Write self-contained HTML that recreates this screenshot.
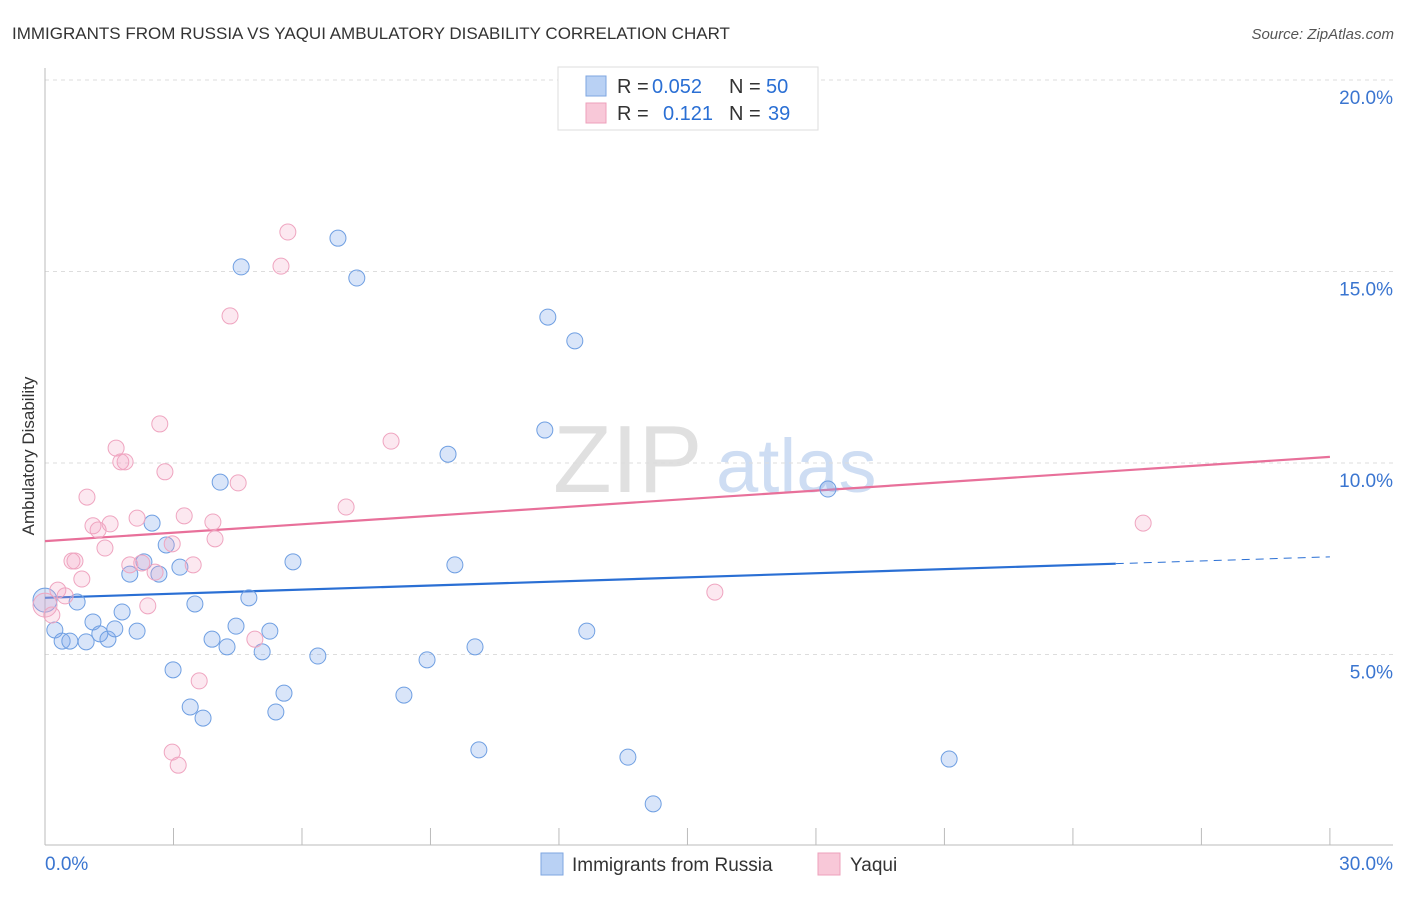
<!DOCTYPE html>
<html><head><meta charset="utf-8"><style>
body{margin:0;background:#fff;font-family:"Liberation Sans",sans-serif}
svg text{font-family:"Liberation Sans",sans-serif}
</style></head><body>
<svg width="1406" height="892" viewBox="0 0 1406 892">
<text x="12" y="39" font-size="17" fill="#333">IMMIGRANTS FROM RUSSIA VS YAQUI AMBULATORY DISABILITY CORRELATION CHART</text>
<text x="1394" y="39" font-size="15" fill="#555" text-anchor="end" font-style="italic">Source: ZipAtlas.com</text>
<text x="0" y="0" transform="translate(34,456) rotate(-90)" font-size="17" fill="#333" text-anchor="middle">Ambulatory Disability</text>
<g opacity="0.9">
<text x="553" y="492" font-size="96" font-family="Liberation Serif" fill="#ddd">ZIP</text>
<text x="716" y="492" font-size="76" fill="#c9daf2">atlas</text>
</g>
<g id="grid"></g><g id="axes"></g><g id="trend"></g><g id="pts"></g>
<g>
<rect x="558" y="67" width="260" height="63" fill="#fff" stroke="#ddd"/>
<rect x="586" y="76" width="20" height="20" fill="#b9d1f4" stroke="#7ea6e0"/>
<text x="617" y="93" font-size="20" fill="#333">R =</text>
<text x="652" y="93" font-size="20" fill="#2a6fd4">0.052</text>
<text x="729" y="93" font-size="20" fill="#333">N =</text>
<text x="766" y="93" font-size="20" fill="#2a6fd4">50</text>
<rect x="586" y="103" width="20" height="20" fill="#f8c8d8" stroke="#eea0bb"/>
<text x="617" y="120" font-size="20" fill="#333">R =</text>
<text x="663" y="120" font-size="20" fill="#2a6fd4">0.121</text>
<text x="729" y="120" font-size="20" fill="#333">N =</text>
<text x="768" y="120" font-size="20" fill="#2a6fd4">39</text>
</g>
<g>
<rect x="541" y="853" width="22" height="22" fill="#b9d1f4" stroke="#7ea6e0"/>
<text x="572" y="871" font-size="19" fill="#333">Immigrants from Russia</text>
<rect x="818" y="853" width="22" height="22" fill="#f8c8d8" stroke="#eea0bb"/>
<text x="850" y="871" font-size="19" fill="#333">Yaqui</text>
</g>
</svg>
<script>
const blueX=[0,0.23,0.40,0.58,0.75,0.96,1.12,1.28,1.47,1.63,1.80,1.98,2.15,2.31,2.50,2.66,2.83,2.99,3.15,3.39,3.50,3.69,3.90,4.09,4.25,4.46,4.58,4.76,5.07,5.25,5.39,5.58,5.79,6.37,6.84,7.28,8.38,8.92,9.41,9.57,10.04,10.13,11.67,11.74,12.37,12.65,13.61,14.20,18.28,21.11];
const blueY=[6.42,5.64,5.35,5.35,6.37,5.33,5.85,5.54,5.40,5.67,6.11,7.10,5.61,7.42,8.43,7.10,7.86,4.60,7.28,3.63,6.32,3.34,5.40,9.50,5.20,5.74,15.12,6.48,5.07,5.61,3.50,3.99,7.42,4.96,15.87,14.83,3.94,4.86,10.23,7.34,5.20,2.51,10.86,13.81,13.19,5.61,2.32,1.10,9.32,2.27];
const pinkX=[0,0.16,0.30,0.47,0.63,0.70,0.86,0.98,1.12,1.24,1.40,1.52,1.66,1.77,1.87,1.98,2.15,2.26,2.40,2.57,2.68,2.80,2.97,2.97,3.11,3.25,3.46,3.60,3.92,3.97,4.32,4.51,4.90,5.51,5.67,7.03,8.08,15.64,25.64];
const pinkY=[6.29,6.03,6.68,6.53,7.44,7.44,6.97,9.11,8.36,8.25,7.78,8.41,10.39,10.03,10.03,7.34,8.56,7.39,6.27,7.15,11.02,9.77,7.89,2.45,2.11,8.62,7.34,4.31,8.46,8.02,13.84,9.48,5.40,15.14,16.03,8.85,10.57,6.63,8.43];
const blueTrend=[6.48,7.55];
const pinkTrend=[7.96,10.16];
const yTicks=[5,10,15,20];
const xTickLabels=["0.0%","30.0%"];
const NS="http://www.w3.org/2000/svg";
const sx=v=>45+v*42.83, sy=v=>846-v*38.3;
function mk(t,a,p){const e=document.createElementNS(NS,t);for(const k in a)e.setAttribute(k,a[k]);document.getElementById(p).appendChild(e);return e;}
yTicks.forEach(t=>{
 const l=mk('line',{x1:45,x2:1393,y1:sy(t),y2:sy(t),stroke:'#ddd','stroke-dasharray':'4,4'},'grid');
 
 
 const tx=mk('text',{x:1393,y:sy(t)+24,'font-size':19,fill:'#3a75d0','text-anchor':'end'},'grid');
 tx.textContent=t.toFixed(1)+'%';
 
 
});
const ax=mk('line',{x1:45,x2:1393,y1:845,y2:845,stroke:'#bbb'},'axes');


const ay=mk('line',{x1:45,x2:45,y1:68,y2:845,stroke:'#bbb'},'axes');


for(let i=0;i<=10;i++){
 const t=mk('line',{x1:sx(i*3),x2:sx(i*3),y1:828,y2:845,stroke:'#bbb'},'axes');
 
 
}
[[0,'start',45],[30,'end',1393]].forEach((d,i)=>{
 const t=mk('text',{x:d[2],y:870,'font-size':19,fill:'#3a75d0','text-anchor':d[1]},'axes');
 t.textContent=xTickLabels[i];
 
 
});
function pts(X,Y,fill,stroke,name){
 X.forEach((x,i)=>{
  const c=mk('circle',{cx:sx(x),cy:sy(Y[i]),r:(x===0?12:8),fill:fill,stroke:stroke,'stroke-width':1},'pts');
  
  
 });
}
pts(blueX,blueY,'rgba(130,170,235,0.3)','#6f9fe2','russia-point');
pts(pinkX,pinkY,'rgba(245,165,195,0.25)','#efa5c0','yaqui-point');
const bEnd=25;
const bMid=blueTrend[0]+(blueTrend[1]-blueTrend[0])*bEnd/30;
const b1=mk('line',{x1:sx(0),y1:sy(blueTrend[0]),x2:sx(bEnd),y2:sy(bMid),stroke:'#2a6fd4','stroke-width':2.2},'trend');


const b2=mk('line',{x1:sx(bEnd),y1:sy(bMid),x2:sx(30),y2:sy(blueTrend[1]),stroke:'#2a6fd4','stroke-width':1,'stroke-dasharray':'8,6'},'trend');


const p1=mk('line',{x1:sx(0),y1:sy(pinkTrend[0]),x2:sx(30),y2:sy(pinkTrend[1]),stroke:'#e8709a','stroke-width':2.2},'trend');


</script>
</body></html>
